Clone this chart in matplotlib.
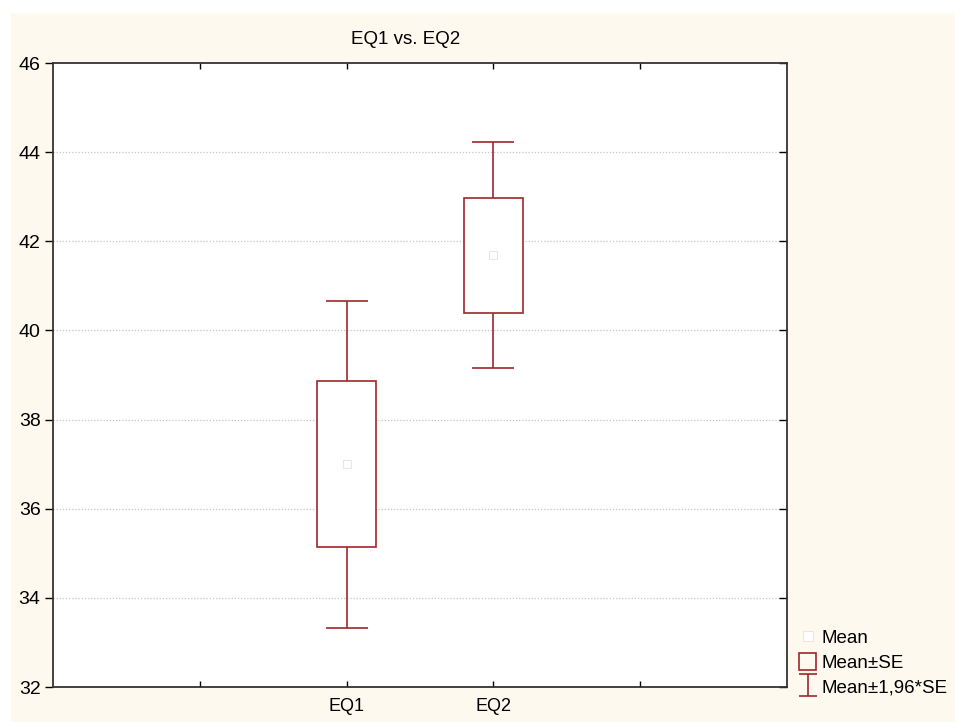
import numpy as np
import matplotlib.pyplot as plt
from matplotlib.patches import Rectangle, Patch
from matplotlib.lines import Line2D
from matplotlib.path import Path

plt.rcParams['font.family'] = ['Liberation Sans', 'DejaVu Sans']

groups = ["EQ1", "EQ2"]
positions = [2, 3]
means = [37.0, 41.69]
se = [1.87, 1.29]

red = '#a0282c'
cream = '#fef9ee'

fig = plt.figure(figsize=(9.55, 7.22), dpi=100, facecolor='white')
# cream panel behind the chart (white strip on top and left like the screenshot)
fig.patches.append(Rectangle((11 / 955, 0), 1, 1 - 13 / 722, transform=fig.transFigure,
                             facecolor=cream, edgecolor='none', zorder=-10))

ax = fig.add_axes([53 / 955, 1 - 687 / 722, (787 - 53) / 955, (687 - 63) / 722])
ax.set_facecolor('white')

m = np.array(means)
s = np.array(se)

# whiskers: mean +- 1.96*SE
ax.errorbar(positions, m, yerr=1.96 * s, fmt='none', ecolor=red, elinewidth=1.2,
            capsize=15, capthick=1.2, zorder=2)
# boxes: mean +- SE
for x, mu, e in zip(positions, m, s):
    ax.add_patch(Rectangle((x - 0.2, mu - e), 0.4, 2 * e, facecolor='white',
                           edgecolor=red, linewidth=1.2, zorder=3))
# mean markers
ax.plot(positions, m, ls='none', marker='s', ms=6, mfc='white', mec='#f0e2e2',
        mew=0.8, zorder=4)

ax.set_xlim(0, 5)
ax.set_ylim(32, 46)
ax.set_yticks(np.arange(32, 47, 2))
ax.set_xticks([1, 2, 3, 4])
ax.set_xticklabels(['', groups[0], groups[1], ''], fontsize=13)
ax.tick_params(axis='y', direction='out', length=6, width=1, labelsize=14, pad=3,
               right=True)
ax.tick_params(axis='x', direction='in', length=4, width=1, pad=8, top=True)
for t in ax.yaxis.get_major_ticks():
    t.tick2line.set_marker(0)  # inward tick on right side

for sp in ax.spines.values():
    sp.set_color('#333333')
    sp.set_linewidth(1.3)

for y in range(34, 46, 2):
    ax.axhline(y, color='#c4c4c4', lw=0.9, ls=(0, (1, 1.5)), zorder=1)

fig.text(406 / 955, 1 - 39 / 722, "EQ1 vs. EQ2", ha='center', va='center', fontsize=13.5)

# "I" shaped marker for the 1.96*SE whisker in the legend
whisker_path = Path([(-0.8, -1), (0.8, -1), (0, -1), (0, 1), (-0.8, 1), (0.8, 1)],
                    [Path.MOVETO, Path.LINETO, Path.MOVETO, Path.LINETO,
                     Path.MOVETO, Path.LINETO])

handles = [
    Line2D([], [], ls='none', marker='s', ms=7, mfc='white', mec='#efe4de', mew=0.8),
    Patch(facecolor='none', edgecolor=red, linewidth=1.2),
    Line2D([], [], ls='none', marker=whisker_path, ms=16, mfc='none', mec=red, mew=1.2),
]
labels = ["Mean", "Mean\u00b1SE", "Mean\u00b11,96*SE"]
fig.legend(handles, labels, loc='lower left', bbox_to_anchor=(790 / 955, 16 / 722),
           frameon=False, fontsize=13.5, handlelength=0.9, handleheight=1.05,
           handletextpad=0.3, labelspacing=0.3, borderpad=0)

fig.savefig('out.png', dpi=100, facecolor=fig.get_facecolor())
